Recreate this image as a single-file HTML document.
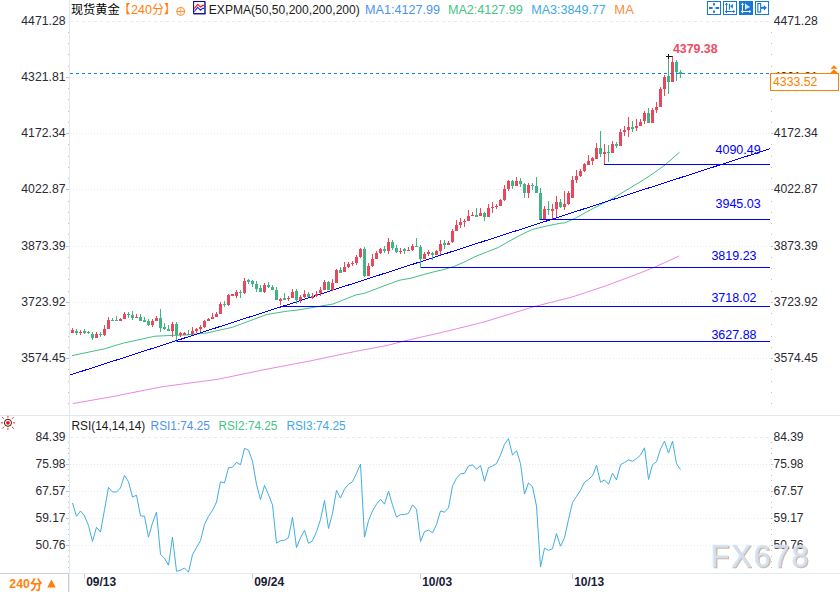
<!DOCTYPE html>
<html><head><meta charset="utf-8"><title>chart</title><style>html,body{margin:0;padding:0;background:#fff;overflow:hidden}body{width:840px;height:592px}</style></head><body>
<svg width="840" height="592" viewBox="0 0 840 592" style="display:block;font-family:'Liberation Sans',sans-serif">
<rect width="840" height="592" fill="#fff"/>
<rect x="69" y="0" width="1" height="573" fill="#e3e8ef"/>
<rect x="0" y="415" width="840" height="1" fill="#e3e8ef"/>
<rect x="0" y="573" width="840" height="1" fill="#e4eaf1"/>
<line x1="70" y1="21.5" x2="770" y2="21.5" stroke="#e7ebf1" stroke-width="1" stroke-dasharray="3,3" shape-rendering="crispEdges"/>
<line x1="70" y1="77.5" x2="770" y2="77.5" stroke="#e7ebf1" stroke-width="1" stroke-dasharray="1,2" shape-rendering="crispEdges"/>
<line x1="70" y1="133.5" x2="770" y2="133.5" stroke="#e7ebf1" stroke-width="1" stroke-dasharray="1,2" shape-rendering="crispEdges"/>
<line x1="70" y1="189.5" x2="770" y2="189.5" stroke="#e7ebf1" stroke-width="1" stroke-dasharray="1,2" shape-rendering="crispEdges"/>
<line x1="70" y1="246.5" x2="770" y2="246.5" stroke="#e7ebf1" stroke-width="1" stroke-dasharray="1,2" shape-rendering="crispEdges"/>
<line x1="70" y1="302.5" x2="770" y2="302.5" stroke="#e7ebf1" stroke-width="1" stroke-dasharray="1,2" shape-rendering="crispEdges"/>
<line x1="70" y1="358.5" x2="770" y2="358.5" stroke="#e7ebf1" stroke-width="1" stroke-dasharray="1,2" shape-rendering="crispEdges"/>
<line x1="70" y1="437.5" x2="770" y2="437.5" stroke="#e7ebf1" stroke-width="1" stroke-dasharray="3,3" shape-rendering="crispEdges"/>
<line x1="70" y1="464.5" x2="770" y2="464.5" stroke="#e7ebf1" stroke-width="1" stroke-dasharray="1,2" shape-rendering="crispEdges"/>
<line x1="70" y1="491.5" x2="770" y2="491.5" stroke="#e7ebf1" stroke-width="1" stroke-dasharray="1,2" shape-rendering="crispEdges"/>
<line x1="70" y1="518.5" x2="770" y2="518.5" stroke="#e7ebf1" stroke-width="1" stroke-dasharray="1,2" shape-rendering="crispEdges"/>
<line x1="70" y1="545.5" x2="770" y2="545.5" stroke="#e7ebf1" stroke-width="1" stroke-dasharray="1,2" shape-rendering="crispEdges"/>
<rect x="68" y="32" width="1" height="1" fill="#bac2d0"/>
<rect x="771" y="32" width="1" height="1" fill="#bac2d0"/>
<rect x="68" y="43" width="1" height="1" fill="#bac2d0"/>
<rect x="771" y="43" width="1" height="1" fill="#bac2d0"/>
<rect x="68" y="54" width="1" height="1" fill="#bac2d0"/>
<rect x="771" y="54" width="1" height="1" fill="#bac2d0"/>
<rect x="68" y="66" width="1" height="1" fill="#bac2d0"/>
<rect x="771" y="66" width="1" height="1" fill="#bac2d0"/>
<rect x="66" y="77" width="3" height="1" fill="#bac2d0"/>
<rect x="771" y="77" width="2" height="1" fill="#bac2d0"/>
<rect x="68" y="88" width="1" height="1" fill="#bac2d0"/>
<rect x="771" y="88" width="1" height="1" fill="#bac2d0"/>
<rect x="68" y="99" width="1" height="1" fill="#bac2d0"/>
<rect x="771" y="99" width="1" height="1" fill="#bac2d0"/>
<rect x="68" y="111" width="1" height="1" fill="#bac2d0"/>
<rect x="771" y="111" width="1" height="1" fill="#bac2d0"/>
<rect x="68" y="122" width="1" height="1" fill="#bac2d0"/>
<rect x="771" y="122" width="1" height="1" fill="#bac2d0"/>
<rect x="66" y="133" width="3" height="1" fill="#bac2d0"/>
<rect x="771" y="133" width="2" height="1" fill="#bac2d0"/>
<rect x="68" y="144" width="1" height="1" fill="#bac2d0"/>
<rect x="771" y="144" width="1" height="1" fill="#bac2d0"/>
<rect x="68" y="156" width="1" height="1" fill="#bac2d0"/>
<rect x="771" y="156" width="1" height="1" fill="#bac2d0"/>
<rect x="68" y="167" width="1" height="1" fill="#bac2d0"/>
<rect x="771" y="167" width="1" height="1" fill="#bac2d0"/>
<rect x="68" y="178" width="1" height="1" fill="#bac2d0"/>
<rect x="771" y="178" width="1" height="1" fill="#bac2d0"/>
<rect x="66" y="189" width="3" height="1" fill="#bac2d0"/>
<rect x="771" y="189" width="2" height="1" fill="#bac2d0"/>
<rect x="68" y="201" width="1" height="1" fill="#bac2d0"/>
<rect x="771" y="201" width="1" height="1" fill="#bac2d0"/>
<rect x="68" y="212" width="1" height="1" fill="#bac2d0"/>
<rect x="771" y="212" width="1" height="1" fill="#bac2d0"/>
<rect x="68" y="223" width="1" height="1" fill="#bac2d0"/>
<rect x="771" y="223" width="1" height="1" fill="#bac2d0"/>
<rect x="68" y="234" width="1" height="1" fill="#bac2d0"/>
<rect x="771" y="234" width="1" height="1" fill="#bac2d0"/>
<rect x="66" y="246" width="3" height="1" fill="#bac2d0"/>
<rect x="771" y="246" width="2" height="1" fill="#bac2d0"/>
<rect x="68" y="257" width="1" height="1" fill="#bac2d0"/>
<rect x="771" y="257" width="1" height="1" fill="#bac2d0"/>
<rect x="68" y="268" width="1" height="1" fill="#bac2d0"/>
<rect x="771" y="268" width="1" height="1" fill="#bac2d0"/>
<rect x="68" y="279" width="1" height="1" fill="#bac2d0"/>
<rect x="771" y="279" width="1" height="1" fill="#bac2d0"/>
<rect x="68" y="291" width="1" height="1" fill="#bac2d0"/>
<rect x="771" y="291" width="1" height="1" fill="#bac2d0"/>
<rect x="66" y="302" width="3" height="1" fill="#bac2d0"/>
<rect x="771" y="302" width="2" height="1" fill="#bac2d0"/>
<rect x="68" y="313" width="1" height="1" fill="#bac2d0"/>
<rect x="771" y="313" width="1" height="1" fill="#bac2d0"/>
<rect x="68" y="324" width="1" height="1" fill="#bac2d0"/>
<rect x="771" y="324" width="1" height="1" fill="#bac2d0"/>
<rect x="68" y="336" width="1" height="1" fill="#bac2d0"/>
<rect x="771" y="336" width="1" height="1" fill="#bac2d0"/>
<rect x="68" y="347" width="1" height="1" fill="#bac2d0"/>
<rect x="771" y="347" width="1" height="1" fill="#bac2d0"/>
<rect x="66" y="358" width="3" height="1" fill="#bac2d0"/>
<rect x="771" y="358" width="2" height="1" fill="#bac2d0"/>
<rect x="68" y="369" width="1" height="1" fill="#bac2d0"/>
<rect x="771" y="369" width="1" height="1" fill="#bac2d0"/>
<rect x="68" y="381" width="1" height="1" fill="#bac2d0"/>
<rect x="771" y="381" width="1" height="1" fill="#bac2d0"/>
<rect x="68" y="392" width="1" height="1" fill="#bac2d0"/>
<rect x="771" y="392" width="1" height="1" fill="#bac2d0"/>
<rect x="68" y="403" width="1" height="1" fill="#bac2d0"/>
<rect x="771" y="403" width="1" height="1" fill="#bac2d0"/>
<rect x="68" y="442" width="1" height="1" fill="#bac2d0"/>
<rect x="771" y="442" width="1" height="1" fill="#bac2d0"/>
<rect x="68" y="448" width="1" height="1" fill="#bac2d0"/>
<rect x="771" y="448" width="1" height="1" fill="#bac2d0"/>
<rect x="68" y="453" width="1" height="1" fill="#bac2d0"/>
<rect x="771" y="453" width="1" height="1" fill="#bac2d0"/>
<rect x="68" y="459" width="1" height="1" fill="#bac2d0"/>
<rect x="771" y="459" width="1" height="1" fill="#bac2d0"/>
<rect x="66" y="464" width="3" height="1" fill="#bac2d0"/>
<rect x="771" y="464" width="2" height="1" fill="#bac2d0"/>
<rect x="68" y="469" width="1" height="1" fill="#bac2d0"/>
<rect x="771" y="469" width="1" height="1" fill="#bac2d0"/>
<rect x="68" y="475" width="1" height="1" fill="#bac2d0"/>
<rect x="771" y="475" width="1" height="1" fill="#bac2d0"/>
<rect x="68" y="480" width="1" height="1" fill="#bac2d0"/>
<rect x="771" y="480" width="1" height="1" fill="#bac2d0"/>
<rect x="68" y="486" width="1" height="1" fill="#bac2d0"/>
<rect x="771" y="486" width="1" height="1" fill="#bac2d0"/>
<rect x="66" y="491" width="3" height="1" fill="#bac2d0"/>
<rect x="771" y="491" width="2" height="1" fill="#bac2d0"/>
<rect x="68" y="496" width="1" height="1" fill="#bac2d0"/>
<rect x="771" y="496" width="1" height="1" fill="#bac2d0"/>
<rect x="68" y="502" width="1" height="1" fill="#bac2d0"/>
<rect x="771" y="502" width="1" height="1" fill="#bac2d0"/>
<rect x="68" y="507" width="1" height="1" fill="#bac2d0"/>
<rect x="771" y="507" width="1" height="1" fill="#bac2d0"/>
<rect x="68" y="513" width="1" height="1" fill="#bac2d0"/>
<rect x="771" y="513" width="1" height="1" fill="#bac2d0"/>
<rect x="66" y="518" width="3" height="1" fill="#bac2d0"/>
<rect x="771" y="518" width="2" height="1" fill="#bac2d0"/>
<rect x="68" y="523" width="1" height="1" fill="#bac2d0"/>
<rect x="771" y="523" width="1" height="1" fill="#bac2d0"/>
<rect x="68" y="529" width="1" height="1" fill="#bac2d0"/>
<rect x="771" y="529" width="1" height="1" fill="#bac2d0"/>
<rect x="68" y="534" width="1" height="1" fill="#bac2d0"/>
<rect x="771" y="534" width="1" height="1" fill="#bac2d0"/>
<rect x="68" y="540" width="1" height="1" fill="#bac2d0"/>
<rect x="771" y="540" width="1" height="1" fill="#bac2d0"/>
<rect x="66" y="545" width="3" height="1" fill="#bac2d0"/>
<rect x="771" y="545" width="2" height="1" fill="#bac2d0"/>
<rect x="68" y="550" width="1" height="1" fill="#bac2d0"/>
<rect x="771" y="550" width="1" height="1" fill="#bac2d0"/>
<rect x="68" y="556" width="1" height="1" fill="#bac2d0"/>
<rect x="771" y="556" width="1" height="1" fill="#bac2d0"/>
<rect x="68" y="561" width="1" height="1" fill="#bac2d0"/>
<rect x="771" y="561" width="1" height="1" fill="#bac2d0"/>
<rect x="68" y="567" width="1" height="1" fill="#bac2d0"/>
<rect x="771" y="567" width="1" height="1" fill="#bac2d0"/>
<text x="65.5" y="25" font-size="12" fill="#2a2a33" text-anchor="end" textLength="44.2" lengthAdjust="spacingAndGlyphs">4471.28</text>
<text x="773.7" y="25" font-size="12" fill="#2a2a33" textLength="44" lengthAdjust="spacingAndGlyphs">4471.28</text>
<text x="65.5" y="81" font-size="12" fill="#2a2a33" text-anchor="end" textLength="44.2" lengthAdjust="spacingAndGlyphs">4321.81</text>
<text x="773.7" y="81" font-size="12" fill="#2a2a33" textLength="44" lengthAdjust="spacingAndGlyphs">4321.81</text>
<text x="65.5" y="137" font-size="12" fill="#2a2a33" text-anchor="end" textLength="44.2" lengthAdjust="spacingAndGlyphs">4172.34</text>
<text x="773.7" y="137" font-size="12" fill="#2a2a33" textLength="44" lengthAdjust="spacingAndGlyphs">4172.34</text>
<text x="65.5" y="193" font-size="12" fill="#2a2a33" text-anchor="end" textLength="44.2" lengthAdjust="spacingAndGlyphs">4022.87</text>
<text x="773.7" y="193" font-size="12" fill="#2a2a33" textLength="44" lengthAdjust="spacingAndGlyphs">4022.87</text>
<text x="65.5" y="250" font-size="12" fill="#2a2a33" text-anchor="end" textLength="44.2" lengthAdjust="spacingAndGlyphs">3873.39</text>
<text x="773.7" y="250" font-size="12" fill="#2a2a33" textLength="44" lengthAdjust="spacingAndGlyphs">3873.39</text>
<text x="65.5" y="306" font-size="12" fill="#2a2a33" text-anchor="end" textLength="44.2" lengthAdjust="spacingAndGlyphs">3723.92</text>
<text x="773.7" y="306" font-size="12" fill="#2a2a33" textLength="44" lengthAdjust="spacingAndGlyphs">3723.92</text>
<text x="65.5" y="362" font-size="12" fill="#2a2a33" text-anchor="end" textLength="44.2" lengthAdjust="spacingAndGlyphs">3574.45</text>
<text x="773.7" y="362" font-size="12" fill="#2a2a33" textLength="44" lengthAdjust="spacingAndGlyphs">3574.45</text>
<text x="65.5" y="440.6" font-size="12" fill="#2a2a33" text-anchor="end">84.39</text>
<text x="773.5" y="440.6" font-size="12" fill="#2a2a33">84.39</text>
<text x="65.5" y="467.6" font-size="12" fill="#2a2a33" text-anchor="end">75.98</text>
<text x="773.5" y="467.6" font-size="12" fill="#2a2a33">75.98</text>
<text x="65.5" y="494.6" font-size="12" fill="#2a2a33" text-anchor="end">67.57</text>
<text x="773.5" y="494.6" font-size="12" fill="#2a2a33">67.57</text>
<text x="65.5" y="521.6" font-size="12" fill="#2a2a33" text-anchor="end">59.17</text>
<text x="773.5" y="521.6" font-size="12" fill="#2a2a33">59.17</text>
<text x="65.5" y="548.6" font-size="12" fill="#2a2a33" text-anchor="end">50.76</text>
<text x="773.5" y="548.6" font-size="12" fill="#2a2a33">50.76</text>
<polyline points="72.9,403.6 115.5,396.0 161.2,386.9 218.4,379.2 264.1,369.7 309.8,361.0 355.5,351.4 386.0,345.7 404.3,341.0 446.2,331.4 484.3,321.9 533.8,306.7 571.9,297.1 606.2,285.7 636.7,274.3 655.7,266.7 679.3,256.0" fill="none" stroke="#ea80e0" stroke-width="0.95" stroke-linejoin="round" />
<polyline points="72.0,355.6 104.5,348.8 123.4,343.1 155.0,336.2 172.2,335.4 186.0,335.0 206.7,333.0 232.5,327.3 249.8,320.8 267.0,314.4 287.0,311.2 298.0,310.0 333.0,304.0 356.0,294.9 364.6,293.2 381.9,286.7 399.0,280.3 410.0,278.4 430.0,272.8 441.7,270.0 453.3,266.7 463.3,262.5 475.0,256.7 486.7,252.0 498.3,247.5 508.3,241.7 520.0,235.3 531.7,229.7 540.0,227.5 550.0,225.3 560.0,223.3 565.0,222.8 576.7,217.5 593.3,208.3 610.0,200.0 626.7,190.0 643.3,180.0 653.3,173.3 665.0,165.0 679.5,152.2" fill="none" stroke="#3aba7e" stroke-width="0.95" stroke-linejoin="round" />
<rect x="604" y="164" width="166" height="1" fill="#0000ff"/>
<text x="760.7" y="153.8" font-size="12" fill="#0000ff" text-anchor="end" textLength="45.2" lengthAdjust="spacingAndGlyphs">4090.49</text>
<rect x="539.5" y="219" width="230.5" height="1" fill="#0000ff"/>
<text x="760.7" y="207.9" font-size="12" fill="#0000ff" text-anchor="end" textLength="45.2" lengthAdjust="spacingAndGlyphs">3945.03</text>
<rect x="420.5" y="267" width="349.5" height="1" fill="#0000ff"/>
<text x="756.6" y="259.8" font-size="12" fill="#0000ff" text-anchor="end" textLength="45.2" lengthAdjust="spacingAndGlyphs">3819.23</text>
<rect x="284" y="306" width="486" height="1" fill="#0000ff"/>
<text x="756.6" y="301.9" font-size="12" fill="#0000ff" text-anchor="end" textLength="45.2" lengthAdjust="spacingAndGlyphs">3718.02</text>
<rect x="176.5" y="341" width="593.5" height="1" fill="#0000ff"/>
<text x="756.6" y="338.9" font-size="12" fill="#0000ff" text-anchor="end" textLength="45.2" lengthAdjust="spacingAndGlyphs">3627.88</text>
<line x1="69.5" y1="375.2" x2="769.8" y2="148.8" stroke="#0000ff" stroke-width="1" shape-rendering="crispEdges"/>
<rect x="72.0" y="328" width="1" height="5" fill="#e8485c"/><rect x="71.0" y="330" width="3" height="3" fill="#e8485c"/>
<rect x="76.0" y="329" width="1" height="6" fill="#42b382"/><rect x="75.0" y="331" width="3" height="2" fill="#42b382"/>
<rect x="80.0" y="330" width="1" height="5" fill="#e8485c"/><rect x="79.0" y="332" width="3" height="1" fill="#e8485c"/>
<rect x="84.0" y="329" width="1" height="5" fill="#42b382"/><rect x="83.0" y="331" width="3" height="2" fill="#42b382"/>
<rect x="88.0" y="331" width="1" height="3" fill="#42b382"/><rect x="87.0" y="332" width="3" height="1" fill="#42b382"/>
<rect x="92.0" y="332" width="1" height="8" fill="#42b382"/><rect x="91.0" y="334" width="3" height="4" fill="#42b382"/>
<rect x="96.0" y="332" width="1" height="6" fill="#e8485c"/><rect x="95.0" y="334" width="3" height="4" fill="#e8485c"/>
<rect x="100.0" y="332" width="1" height="5" fill="#42b382"/><rect x="99.0" y="334" width="3" height="1" fill="#42b382"/>
<rect x="104.0" y="325" width="1" height="11" fill="#e8485c"/><rect x="103.0" y="329" width="3" height="6" fill="#e8485c"/>
<rect x="108.0" y="317" width="1" height="12" fill="#e8485c"/><rect x="107.0" y="320" width="3" height="9" fill="#e8485c"/>
<rect x="112.0" y="318" width="1" height="3" fill="#42b382"/><rect x="111.0" y="320" width="3" height="1" fill="#42b382"/>
<rect x="116.0" y="316" width="1" height="5" fill="#42b382"/><rect x="115.0" y="320" width="3" height="1" fill="#42b382"/>
<rect x="120.0" y="318" width="1" height="3" fill="#e8485c"/><rect x="119.0" y="319" width="3" height="2" fill="#e8485c"/>
<rect x="124.0" y="312" width="1" height="7" fill="#e8485c"/><rect x="123.0" y="314" width="3" height="5" fill="#e8485c"/>
<rect x="128.0" y="312" width="1" height="6" fill="#42b382"/><rect x="127.0" y="314" width="3" height="1" fill="#42b382"/>
<rect x="132.0" y="311" width="1" height="9" fill="#42b382"/><rect x="131.0" y="315" width="3" height="3" fill="#42b382"/>
<rect x="136.0" y="314" width="1" height="4" fill="#e8485c"/><rect x="135.0" y="317" width="3" height="1" fill="#e8485c"/>
<rect x="140.0" y="314" width="1" height="7" fill="#42b382"/><rect x="139.0" y="317" width="3" height="4" fill="#42b382"/>
<rect x="144.0" y="317" width="1" height="5" fill="#42b382"/><rect x="143.0" y="320" width="3" height="2" fill="#42b382"/>
<rect x="148.0" y="319" width="1" height="7" fill="#42b382"/><rect x="147.0" y="321" width="3" height="4" fill="#42b382"/>
<rect x="152.0" y="319" width="1" height="8" fill="#e8485c"/><rect x="151.0" y="321" width="3" height="4" fill="#e8485c"/>
<rect x="156.0" y="316" width="1" height="5" fill="#e8485c"/><rect x="155.0" y="318" width="3" height="3" fill="#e8485c"/>
<rect x="160.0" y="309" width="1" height="23" fill="#42b382"/><rect x="159.0" y="318" width="3" height="10" fill="#42b382"/>
<rect x="164.0" y="323" width="1" height="7" fill="#42b382"/><rect x="163.0" y="327" width="3" height="2" fill="#42b382"/>
<rect x="168.0" y="325" width="1" height="6" fill="#42b382"/><rect x="167.0" y="329" width="3" height="2" fill="#42b382"/>
<rect x="172.0" y="322" width="1" height="15" fill="#e8485c"/><rect x="171.0" y="324" width="3" height="7" fill="#e8485c"/>
<rect x="176.0" y="322" width="1" height="18" fill="#42b382"/><rect x="175.0" y="324" width="3" height="11" fill="#42b382"/>
<rect x="180.0" y="332" width="1" height="5" fill="#e8485c"/><rect x="179.0" y="333" width="3" height="2" fill="#e8485c"/>
<rect x="184.0" y="332" width="1" height="3" fill="#e8485c"/><rect x="183.0" y="333" width="3" height="2" fill="#e8485c"/>
<rect x="188.0" y="330" width="1" height="5" fill="#42b382"/><rect x="187.0" y="334" width="3" height="1" fill="#42b382"/>
<rect x="192.0" y="327" width="1" height="8" fill="#e8485c"/><rect x="191.0" y="331" width="3" height="3" fill="#e8485c"/>
<rect x="196.0" y="328" width="1" height="5" fill="#e8485c"/><rect x="195.0" y="329" width="3" height="2" fill="#e8485c"/>
<rect x="200.0" y="325" width="1" height="7" fill="#e8485c"/><rect x="199.0" y="327" width="3" height="2" fill="#e8485c"/>
<rect x="204.0" y="320" width="1" height="8" fill="#e8485c"/><rect x="203.0" y="321" width="3" height="6" fill="#e8485c"/>
<rect x="208.0" y="318" width="1" height="3" fill="#e8485c"/><rect x="207.0" y="319" width="3" height="2" fill="#e8485c"/>
<rect x="212.0" y="313" width="1" height="6" fill="#e8485c"/><rect x="211.0" y="317" width="3" height="2" fill="#e8485c"/>
<rect x="216.0" y="312" width="1" height="5" fill="#e8485c"/><rect x="215.0" y="314" width="3" height="3" fill="#e8485c"/>
<rect x="220.0" y="302" width="1" height="12" fill="#e8485c"/><rect x="219.0" y="304" width="3" height="10" fill="#e8485c"/>
<rect x="224.0" y="301" width="1" height="6" fill="#42b382"/><rect x="223.0" y="304" width="3" height="1" fill="#42b382"/>
<rect x="228.0" y="294" width="1" height="12" fill="#e8485c"/><rect x="227.0" y="295" width="3" height="10" fill="#e8485c"/>
<rect x="232.0" y="294" width="1" height="2" fill="#e8485c"/><rect x="231.0" y="294" width="3" height="2" fill="#e8485c"/>
<rect x="236.0" y="290" width="1" height="8" fill="#e8485c"/><rect x="235.0" y="292" width="3" height="4" fill="#e8485c"/>
<rect x="240.0" y="290" width="1" height="8" fill="#42b382"/><rect x="239.0" y="292" width="3" height="1" fill="#42b382"/>
<rect x="244.0" y="278" width="1" height="16" fill="#e8485c"/><rect x="243.0" y="281" width="3" height="12" fill="#e8485c"/>
<rect x="248.0" y="279" width="1" height="5" fill="#42b382"/><rect x="247.0" y="280" width="3" height="2" fill="#42b382"/>
<rect x="252.0" y="280" width="1" height="7" fill="#42b382"/><rect x="251.0" y="281" width="3" height="3" fill="#42b382"/>
<rect x="256.0" y="281" width="1" height="11" fill="#42b382"/><rect x="255.0" y="284" width="3" height="5" fill="#42b382"/>
<rect x="260.0" y="285" width="1" height="7" fill="#42b382"/><rect x="259.0" y="288" width="3" height="4" fill="#42b382"/>
<rect x="264.0" y="283" width="1" height="10" fill="#e8485c"/><rect x="263.0" y="285" width="3" height="7" fill="#e8485c"/>
<rect x="268.0" y="282" width="1" height="6" fill="#42b382"/><rect x="267.0" y="285" width="3" height="2" fill="#42b382"/>
<rect x="272.0" y="285" width="1" height="5" fill="#42b382"/><rect x="271.0" y="287" width="3" height="3" fill="#42b382"/>
<rect x="276.0" y="287" width="1" height="13" fill="#42b382"/><rect x="275.0" y="290" width="3" height="10" fill="#42b382"/>
<rect x="280.0" y="298" width="1" height="7" fill="#e8485c"/><rect x="279.0" y="299" width="3" height="2" fill="#e8485c"/>
<rect x="284.0" y="293" width="1" height="7" fill="#42b382"/><rect x="283.0" y="298" width="3" height="2" fill="#42b382"/>
<rect x="288.0" y="296" width="1" height="5" fill="#e8485c"/><rect x="287.0" y="298" width="3" height="1" fill="#e8485c"/>
<rect x="292.0" y="289" width="1" height="9" fill="#e8485c"/><rect x="291.0" y="292" width="3" height="6" fill="#e8485c"/>
<rect x="296.0" y="289" width="1" height="15" fill="#42b382"/><rect x="295.0" y="291" width="3" height="9" fill="#42b382"/>
<rect x="300.0" y="295" width="1" height="8" fill="#e8485c"/><rect x="299.0" y="297" width="3" height="3" fill="#e8485c"/>
<rect x="304.0" y="290" width="1" height="8" fill="#e8485c"/><rect x="303.0" y="294" width="3" height="3" fill="#e8485c"/>
<rect x="308.0" y="292" width="1" height="5" fill="#42b382"/><rect x="307.0" y="294" width="3" height="3" fill="#42b382"/>
<rect x="312.0" y="293" width="1" height="6" fill="#e8485c"/><rect x="311.0" y="296" width="3" height="2" fill="#e8485c"/>
<rect x="316.0" y="291" width="1" height="6" fill="#e8485c"/><rect x="315.0" y="294" width="3" height="2" fill="#e8485c"/>
<rect x="320.0" y="287" width="1" height="9" fill="#e8485c"/><rect x="319.0" y="290" width="3" height="3" fill="#e8485c"/>
<rect x="324.0" y="280" width="1" height="10" fill="#e8485c"/><rect x="323.0" y="282" width="3" height="8" fill="#e8485c"/>
<rect x="328.0" y="281" width="1" height="9" fill="#42b382"/><rect x="327.0" y="282" width="3" height="8" fill="#42b382"/>
<rect x="332.0" y="279" width="1" height="12" fill="#e8485c"/><rect x="331.0" y="283" width="3" height="7" fill="#e8485c"/>
<rect x="336.0" y="269" width="1" height="14" fill="#e8485c"/><rect x="335.0" y="270" width="3" height="13" fill="#e8485c"/>
<rect x="340.0" y="267" width="1" height="6" fill="#42b382"/><rect x="339.0" y="270" width="3" height="3" fill="#42b382"/>
<rect x="344.0" y="262" width="1" height="10" fill="#e8485c"/><rect x="343.0" y="267" width="3" height="5" fill="#e8485c"/>
<rect x="348.0" y="262" width="1" height="6" fill="#e8485c"/><rect x="347.0" y="264" width="3" height="3" fill="#e8485c"/>
<rect x="352.0" y="261" width="1" height="5" fill="#e8485c"/><rect x="351.0" y="263" width="3" height="1" fill="#e8485c"/>
<rect x="356.0" y="255" width="1" height="10" fill="#e8485c"/><rect x="355.0" y="257" width="3" height="6" fill="#e8485c"/>
<rect x="360.0" y="248" width="1" height="10" fill="#e8485c"/><rect x="359.0" y="249" width="3" height="8" fill="#e8485c"/>
<rect x="364.0" y="247" width="1" height="30" fill="#42b382"/><rect x="363.0" y="249" width="3" height="27" fill="#42b382"/>
<rect x="368.0" y="263" width="1" height="13" fill="#e8485c"/><rect x="367.0" y="266" width="3" height="10" fill="#e8485c"/>
<rect x="372.0" y="254" width="1" height="13" fill="#e8485c"/><rect x="371.0" y="259" width="3" height="7" fill="#e8485c"/>
<rect x="376.0" y="251" width="1" height="8" fill="#e8485c"/><rect x="375.0" y="253" width="3" height="6" fill="#e8485c"/>
<rect x="380.0" y="248" width="1" height="6" fill="#e8485c"/><rect x="379.0" y="249" width="3" height="4" fill="#e8485c"/>
<rect x="384.0" y="246" width="1" height="7" fill="#42b382"/><rect x="383.0" y="249" width="3" height="2" fill="#42b382"/>
<rect x="388.0" y="238" width="1" height="16" fill="#e8485c"/><rect x="387.0" y="242" width="3" height="9" fill="#e8485c"/>
<rect x="392.0" y="240" width="1" height="10" fill="#42b382"/><rect x="391.0" y="242" width="3" height="6" fill="#42b382"/>
<rect x="396.0" y="245" width="1" height="8" fill="#42b382"/><rect x="395.0" y="248" width="3" height="4" fill="#42b382"/>
<rect x="400.0" y="248" width="1" height="6" fill="#e8485c"/><rect x="399.0" y="251" width="3" height="1" fill="#e8485c"/>
<rect x="404.0" y="248" width="1" height="6" fill="#42b382"/><rect x="403.0" y="249" width="3" height="2" fill="#42b382"/>
<rect x="408.0" y="247" width="1" height="4" fill="#e8485c"/><rect x="407.0" y="250" width="3" height="1" fill="#e8485c"/>
<rect x="412.0" y="244" width="1" height="7" fill="#e8485c"/><rect x="411.0" y="246" width="3" height="4" fill="#e8485c"/>
<rect x="416.0" y="238" width="1" height="9" fill="#42b382"/><rect x="415.0" y="246" width="3" height="1" fill="#42b382"/>
<rect x="420.0" y="245" width="1" height="23" fill="#42b382"/><rect x="419.0" y="247" width="3" height="12" fill="#42b382"/>
<rect x="424.0" y="252" width="1" height="7" fill="#e8485c"/><rect x="423.0" y="254" width="3" height="5" fill="#e8485c"/>
<rect x="428.0" y="250" width="1" height="6" fill="#e8485c"/><rect x="427.0" y="252" width="3" height="2" fill="#e8485c"/>
<rect x="432.0" y="252" width="1" height="8" fill="#42b382"/><rect x="431.0" y="253" width="3" height="2" fill="#42b382"/>
<rect x="436.0" y="250" width="1" height="5" fill="#e8485c"/><rect x="435.0" y="251" width="3" height="4" fill="#e8485c"/>
<rect x="440.0" y="240" width="1" height="15" fill="#e8485c"/><rect x="439.0" y="244" width="3" height="7" fill="#e8485c"/>
<rect x="444.0" y="240" width="1" height="9" fill="#42b382"/><rect x="443.0" y="243" width="3" height="2" fill="#42b382"/>
<rect x="448.0" y="241" width="1" height="4" fill="#e8485c"/><rect x="447.0" y="243" width="3" height="2" fill="#e8485c"/>
<rect x="452.0" y="229" width="1" height="14" fill="#e8485c"/><rect x="451.0" y="231" width="3" height="11" fill="#e8485c"/>
<rect x="456.0" y="220" width="1" height="11" fill="#e8485c"/><rect x="455.0" y="225" width="3" height="6" fill="#e8485c"/>
<rect x="460.0" y="218" width="1" height="10" fill="#e8485c"/><rect x="459.0" y="222" width="3" height="3" fill="#e8485c"/>
<rect x="464.0" y="219" width="1" height="8" fill="#e8485c"/><rect x="463.0" y="221" width="3" height="1" fill="#e8485c"/>
<rect x="468.0" y="210" width="1" height="11" fill="#e8485c"/><rect x="467.0" y="216" width="3" height="5" fill="#e8485c"/>
<rect x="472.0" y="212" width="1" height="4" fill="#e8485c"/><rect x="471.0" y="215" width="3" height="1" fill="#e8485c"/>
<rect x="476.0" y="208" width="1" height="9" fill="#42b382"/><rect x="475.0" y="215" width="3" height="2" fill="#42b382"/>
<rect x="480.0" y="208" width="1" height="8" fill="#e8485c"/><rect x="479.0" y="213" width="3" height="3" fill="#e8485c"/>
<rect x="484.0" y="212" width="1" height="9" fill="#42b382"/><rect x="483.0" y="213" width="3" height="4" fill="#42b382"/>
<rect x="488.0" y="204" width="1" height="13" fill="#e8485c"/><rect x="487.0" y="208" width="3" height="9" fill="#e8485c"/>
<rect x="492.0" y="202" width="1" height="11" fill="#e8485c"/><rect x="491.0" y="207" width="3" height="1" fill="#e8485c"/>
<rect x="496.0" y="204" width="1" height="5" fill="#e8485c"/><rect x="495.0" y="206" width="3" height="1" fill="#e8485c"/>
<rect x="500.0" y="199" width="1" height="7" fill="#e8485c"/><rect x="499.0" y="200" width="3" height="6" fill="#e8485c"/>
<rect x="504.0" y="185" width="1" height="16" fill="#e8485c"/><rect x="503.0" y="189" width="3" height="11" fill="#e8485c"/>
<rect x="508.0" y="180" width="1" height="11" fill="#e8485c"/><rect x="507.0" y="181" width="3" height="8" fill="#e8485c"/>
<rect x="512.0" y="180" width="1" height="9" fill="#42b382"/><rect x="511.0" y="181" width="3" height="5" fill="#42b382"/>
<rect x="516.0" y="177" width="1" height="9" fill="#e8485c"/><rect x="515.0" y="181" width="3" height="5" fill="#e8485c"/>
<rect x="520.0" y="178" width="1" height="9" fill="#42b382"/><rect x="519.0" y="181" width="3" height="3" fill="#42b382"/>
<rect x="524.0" y="183" width="1" height="15" fill="#42b382"/><rect x="523.0" y="184" width="3" height="9" fill="#42b382"/>
<rect x="528.0" y="183" width="1" height="15" fill="#e8485c"/><rect x="527.0" y="185" width="3" height="8" fill="#e8485c"/>
<rect x="532.0" y="183" width="1" height="7" fill="#42b382"/><rect x="531.0" y="185" width="3" height="1" fill="#42b382"/>
<rect x="536.0" y="177" width="1" height="16" fill="#42b382"/><rect x="535.0" y="186" width="3" height="7" fill="#42b382"/>
<rect x="540.0" y="188" width="1" height="31" fill="#42b382"/><rect x="539.0" y="193" width="3" height="26" fill="#42b382"/>
<rect x="544.0" y="206" width="1" height="13" fill="#e8485c"/><rect x="543.0" y="209" width="3" height="10" fill="#e8485c"/>
<rect x="548.0" y="201" width="1" height="14" fill="#42b382"/><rect x="547.0" y="209" width="3" height="1" fill="#42b382"/>
<rect x="552.0" y="204" width="1" height="15" fill="#e8485c"/><rect x="551.0" y="209" width="3" height="2" fill="#e8485c"/>
<rect x="556.0" y="196" width="1" height="21" fill="#e8485c"/><rect x="555.0" y="202" width="3" height="7" fill="#e8485c"/>
<rect x="560.0" y="199" width="1" height="9" fill="#42b382"/><rect x="559.0" y="202" width="3" height="5" fill="#42b382"/>
<rect x="564.0" y="191" width="1" height="19" fill="#e8485c"/><rect x="563.0" y="204" width="3" height="3" fill="#e8485c"/>
<rect x="568.0" y="191" width="1" height="14" fill="#e8485c"/><rect x="567.0" y="193" width="3" height="11" fill="#e8485c"/>
<rect x="572.0" y="176" width="1" height="22" fill="#e8485c"/><rect x="571.0" y="180" width="3" height="18" fill="#e8485c"/>
<rect x="576.0" y="170" width="1" height="13" fill="#e8485c"/><rect x="575.0" y="176" width="3" height="4" fill="#e8485c"/>
<rect x="580.0" y="169" width="1" height="8" fill="#e8485c"/><rect x="579.0" y="171" width="3" height="5" fill="#e8485c"/>
<rect x="584.0" y="163" width="1" height="9" fill="#e8485c"/><rect x="583.0" y="164" width="3" height="7" fill="#e8485c"/>
<rect x="588.0" y="155" width="1" height="10" fill="#e8485c"/><rect x="587.0" y="161" width="3" height="4" fill="#e8485c"/>
<rect x="592.0" y="157" width="1" height="8" fill="#e8485c"/><rect x="591.0" y="158" width="3" height="3" fill="#e8485c"/>
<rect x="596.0" y="143" width="1" height="16" fill="#e8485c"/><rect x="595.0" y="148" width="3" height="11" fill="#e8485c"/>
<rect x="600.0" y="131" width="1" height="26" fill="#42b382"/><rect x="599.0" y="148" width="3" height="6" fill="#42b382"/>
<rect x="604.0" y="144" width="1" height="20" fill="#e8485c"/><rect x="603.0" y="152" width="3" height="2" fill="#e8485c"/>
<rect x="608.0" y="145" width="1" height="17" fill="#42b382"/><rect x="607.0" y="152" width="3" height="1" fill="#42b382"/>
<rect x="612.0" y="141" width="1" height="12" fill="#e8485c"/><rect x="611.0" y="144" width="3" height="9" fill="#e8485c"/>
<rect x="616.0" y="142" width="1" height="6" fill="#42b382"/><rect x="615.0" y="144" width="3" height="2" fill="#42b382"/>
<rect x="620.0" y="129" width="1" height="17" fill="#e8485c"/><rect x="619.0" y="132" width="3" height="14" fill="#e8485c"/>
<rect x="624.0" y="126" width="1" height="10" fill="#e8485c"/><rect x="623.0" y="130" width="3" height="2" fill="#e8485c"/>
<rect x="628.0" y="117" width="1" height="20" fill="#e8485c"/><rect x="627.0" y="127" width="3" height="3" fill="#e8485c"/>
<rect x="632.0" y="121" width="1" height="11" fill="#42b382"/><rect x="631.0" y="127" width="3" height="2" fill="#42b382"/>
<rect x="636.0" y="119" width="1" height="12" fill="#e8485c"/><rect x="635.0" y="126" width="3" height="2" fill="#e8485c"/>
<rect x="640.0" y="119" width="1" height="7" fill="#e8485c"/><rect x="639.0" y="122" width="3" height="4" fill="#e8485c"/>
<rect x="644.0" y="111" width="1" height="13" fill="#e8485c"/><rect x="643.0" y="113" width="3" height="8" fill="#e8485c"/>
<rect x="648.0" y="108" width="1" height="15" fill="#42b382"/><rect x="647.0" y="113" width="3" height="10" fill="#42b382"/>
<rect x="652.0" y="108" width="1" height="15" fill="#e8485c"/><rect x="651.0" y="110" width="3" height="13" fill="#e8485c"/>
<rect x="656.0" y="102" width="1" height="11" fill="#e8485c"/><rect x="655.0" y="107" width="3" height="3" fill="#e8485c"/>
<rect x="660.0" y="87" width="1" height="20" fill="#e8485c"/><rect x="659.0" y="89" width="3" height="18" fill="#e8485c"/>
<rect x="664.0" y="75" width="1" height="21" fill="#e8485c"/><rect x="663.0" y="77" width="3" height="12" fill="#e8485c"/>
<rect x="668.0" y="56" width="1" height="38" fill="#42b382"/><rect x="667.0" y="76" width="3" height="6" fill="#42b382"/>
<rect x="672.0" y="56" width="1" height="26" fill="#e8485c"/><rect x="671.0" y="62" width="3" height="20" fill="#e8485c"/>
<rect x="676.0" y="60" width="1" height="21" fill="#42b382"/><rect x="675.0" y="62" width="3" height="10" fill="#42b382"/>
<rect x="680.0" y="70" width="1" height="8" fill="#42b382"/><rect x="679.0" y="72" width="3" height="2" fill="#42b382"/>
<line x1="70" y1="73.5" x2="770" y2="73.5" stroke="#0a7cff" stroke-width="1" stroke-dasharray="3,3" shape-rendering="crispEdges"/>
<path d="M666 56.5H672.5M668.5 54V59" stroke="#111" stroke-width="1" fill="none"/>
<text x="673" y="52.9" font-size="12" font-weight="bold" fill="#ec4d63" textLength="44.6" lengthAdjust="spacingAndGlyphs">4379.38</text>
<rect x="770.5" y="73.5" width="68" height="17" fill="#fff" stroke="#ff8000" stroke-width="1"/>
<text x="773" y="85.8" font-size="12" fill="#ff8000" textLength="44.4" lengthAdjust="spacingAndGlyphs">4333.52</text>
<path d="M830.4 68.8L834 65.2L837.6 68.8ZM830.2 73L834 69.2L837.8 73Z" fill="#ff8000"/>
<polyline points="72.5,503.0 76.5,516.3 80.5,511.0 84.5,515.9 88.5,525.6 92.5,541.4 96.5,527.3 100.5,532.1 104.5,509.8 108.5,487.4 112.5,492.0 116.5,492.0 120.5,487.9 124.5,475.3 128.5,481.8 132.5,497.1 136.5,495.2 140.5,515.9 144.5,516.3 148.5,537.2 152.5,523.1 156.5,512.2 160.5,554.3 164.5,558.4 168.5,565.2 172.5,537.0 176.5,571.3 180.5,570.1 184.5,568.1 188.5,572.2 192.5,554.7 196.5,547.5 200.5,540.6 204.5,524.4 208.5,516.3 212.5,510.3 216.5,502.0 220.5,481.8 224.5,483.0 228.5,467.7 232.5,467.2 236.5,462.4 240.5,464.8 244.5,448.3 248.5,450.2 252.5,461.2 256.5,484.3 260.5,499.6 264.5,485.5 268.5,494.7 272.5,504.9 276.5,543.1 280.5,540.6 284.5,540.2 288.5,537.7 292.5,517.1 296.5,547.5 300.5,537.7 304.5,530.4 308.5,543.3 312.5,540.9 316.5,531.7 320.5,519.5 324.5,500.5 328.5,528.5 332.5,513.4 336.5,490.3 340.5,498.1 344.5,489.1 348.5,484.3 352.5,481.8 356.5,473.3 360.5,464.1 364.5,537.2 368.5,520.7 372.5,511.0 376.5,504.2 380.5,499.3 384.5,504.2 388.5,491.1 392.5,504.9 396.5,517.1 400.5,514.6 404.5,514.6 408.5,513.4 412.5,504.9 416.5,509.3 420.5,541.4 424.5,531.7 428.5,530.0 432.5,532.9 436.5,524.4 440.5,511.0 444.5,512.2 448.5,507.8 452.5,486.0 456.5,478.2 460.5,473.8 464.5,473.3 468.5,466.0 472.5,464.8 476.5,469.2 480.5,465.5 484.5,481.3 488.5,467.7 492.5,466.0 496.5,463.6 500.5,455.1 504.5,444.2 508.5,438.6 512.5,455.1 516.5,450.7 520.5,463.6 524.5,494.0 528.5,483.0 532.5,486.7 536.5,506.1 540.5,566.9 544.5,548.2 548.5,550.4 552.5,548.7 556.5,533.6 560.5,546.2 564.5,537.7 568.5,519.5 572.5,502.5 576.5,496.4 580.5,490.3 584.5,482.3 588.5,479.4 592.5,475.8 596.5,465.3 600.5,482.3 604.5,479.9 608.5,484.3 612.5,473.3 616.5,479.9 620.5,464.8 624.5,462.4 628.5,460.0 632.5,461.2 636.5,458.7 640.5,455.1 644.5,447.8 648.5,479.4 652.5,464.8 656.5,461.7 660.5,449.0 664.5,441.2 668.5,453.1 672.5,441.2 676.5,463.6 680.5,469.7" fill="none" stroke="#38a8e0" stroke-width="0.95" stroke-linejoin="round" />
<text x="70.9" y="14.1" font-size="12.2" fill="#000" style="font-family:'Liberation Sans','Noto Sans CJK SC',sans-serif">现货黄金</text>
<text x="118.5" y="14" font-size="12" fill="#ff7f0e" style="font-family:'Liberation Sans','Noto Sans CJK SC',sans-serif">【</text>
<text x="131" y="14" font-size="12.5" fill="#ff7f0e" textLength="20.9" lengthAdjust="spacingAndGlyphs">240</text>
<text x="151.9" y="14" font-size="12" fill="#ff7f0e" style="font-family:'Liberation Sans','Noto Sans CJK SC',sans-serif">分</text>
<text x="163.9" y="14" font-size="12" fill="#ff7f0e" style="font-family:'Liberation Sans','Noto Sans CJK SC',sans-serif">】</text>
<g stroke="#ff8a1c" fill="none"><circle cx="180.7" cy="11.4" r="4.0" stroke-width="1"/><path d="M176.7 11.4H184.7" stroke-width="1"/><path d="M180.7 7.4V15.4" stroke-width="0.6"/></g>
<g><rect x="193.6" y="1.5" width="11.3" height="12.2" fill="#fff" stroke="#12128c" stroke-width="1.1"/><rect x="194" y="13.2" width="11.6" height="1.1" fill="#12128c" opacity="0.85"/><rect x="204.6" y="2" width="1" height="12" fill="#12128c" opacity="0.7"/><polyline points="194.3,8.6 197.6,4.4 200.5,7 202.7,5.4 204,5.4" fill="none" stroke="#ff1a1a" stroke-width="1.2"/><polyline points="194.3,11.5 197.6,7.3 200.5,10.2 202.7,8.3 204,8.3" fill="none" stroke="#1a2cff" stroke-width="1.2"/></g>
<text x="208.8" y="14" font-size="12" fill="#1a1a1a" font-weight="normal" textLength="151" lengthAdjust="spacingAndGlyphs">EXPMA(50,50,200,200,200)</text>
<text x="365" y="14" font-size="12" fill="#4d94f0" font-weight="normal" textLength="75" lengthAdjust="spacingAndGlyphs">MA1:4127.99</text>
<text x="448" y="14" font-size="12" fill="#45c485" font-weight="normal" textLength="74.8" lengthAdjust="spacingAndGlyphs">MA2:4127.99</text>
<text x="531.3" y="14" font-size="12" fill="#3fa9e6" font-weight="normal" textLength="74.5" lengthAdjust="spacingAndGlyphs">MA3:3849.77</text>
<text x="614.3" y="14" font-size="12" fill="#ff8c3c" font-weight="normal" textLength="19.5" lengthAdjust="spacingAndGlyphs">MA</text>
<rect x="707.5" y="1.5" width="13" height="13" fill="#fff" stroke="#1878d6" stroke-width="1"/>
<rect x="723.5" y="1.5" width="13" height="13" fill="#fff" stroke="#1878d6" stroke-width="1"/>
<rect x="739" y="1" width="14" height="14" fill="#1878d6"/>
<rect x="755.5" y="1.5" width="13" height="13" fill="#fff" stroke="#1878d6" stroke-width="1"/>
<g fill="#1878d6"><rect x="709" y="7" width="3.6" height="2"/><rect x="715.5" y="7" width="3.6" height="2"/><rect x="713" y="3.2" width="2" height="2.2"/><rect x="713" y="10.6" width="2" height="2.2"/></g>
<g stroke="#1878d6" fill="#1878d6"><path d="M726.5 3.6V12.6M725.4 11.5H734.6" fill="none" stroke-width="1"/><path d="M726.5 2.6L725.0 5.1H728.0Z M726.5 13.4L725.1 11.3H727.9Z M735.2 11.5L733.2 10.0V13.0Z M724.8 11.5L726.7 10.1V12.9Z" stroke="none"/></g>
<g fill="#1878d6"><rect x="728.9" y="3.7" width="1.1" height="5.9"/><path d="M730.2 6.2L732.8 3.7V8.8Z"/></g>
<g stroke="#fff" fill="#fff"><path d="M742.5 3.6V12.6M741.4 11.5H750.6" fill="none" stroke-width="1"/><path d="M742.5 2.6L741.0 5.1H744.0Z M742.5 13.4L741.1 11.3H743.9Z M751.2 11.5L749.2 10.0V13.0Z M740.8 11.5L742.7 10.1V12.9Z" stroke="none"/></g>
<path d="M745.1 3.7L750.4 6.9L745.1 9.4Z" fill="#fff" opacity="0.75"/><rect x="745" y="3.7" width="0.9" height="5.7" fill="#fff"/>
<g fill="#1878d6"><rect x="757.3" y="3" width="3.9" height="9.6"/><rect x="758.4" y="4.1" width="1.7" height="7.4" fill="#fff"/><rect x="761" y="6.9" width="3.6" height="1.9"/><path d="M763.9 5.3L766.9 7.85L763.9 10.4Z"/></g>
<text x="71.5" y="430.3" font-size="12" fill="#1a1a1a" font-weight="normal" textLength="73.8" lengthAdjust="spacingAndGlyphs">RSI(14,14,14)</text>
<text x="150.6" y="430.3" font-size="12" fill="#4d94f0" font-weight="normal" textLength="59.3" lengthAdjust="spacingAndGlyphs">RSI1:74.25</text>
<text x="218.5" y="430.3" font-size="12" fill="#45c485" font-weight="normal" textLength="58.9" lengthAdjust="spacingAndGlyphs">RSI2:74.25</text>
<text x="286.4" y="430.3" font-size="12" fill="#3fa9e6" font-weight="normal" textLength="59.2" lengthAdjust="spacingAndGlyphs">RSI3:74.25</text>
<g><path d="M12.95 422.80L14.95 422.80M11.84 426.69L13.61 428.46M7.95 427.80L7.95 429.80M4.06 426.69L2.29 428.46M2.95 422.80L0.95 422.80M4.06 418.91L2.29 417.14M7.95 417.80L7.95 415.80M11.84 418.91L13.61 417.14" stroke="#ff1a1a" stroke-width="1" fill="none"/><circle cx="7.95" cy="422.8" r="3.55" fill="#fff" stroke="#111" stroke-width="0.95"/><circle cx="7.95" cy="422.8" r="1.9" fill="#ff0a0a"/></g>
<rect x="0" y="573" width="69" height="1" fill="#ccd2dc"/><rect x="68" y="573" width="1" height="19" fill="#c6ccd7"/><rect x="69" y="574" width="1" height="18" fill="#eef1f5"/>
<text x="9.3" y="587.7" font-size="12" font-weight="bold" fill="#ff7f0e" textLength="20.5" lengthAdjust="spacingAndGlyphs">240</text>
<text x="29.9" y="588.8" font-size="12.6" font-weight="bold" fill="#ff7f0e" style="font-family:'Liberation Sans','Noto Sans CJK SC',sans-serif">分</text>
<path d="M47.2 587.4L51.5 579.4L55.8 587.4Z" fill="#ff7f0e"/>
<rect x="84" y="574" width="1" height="5" fill="#c9d0db"/>
<text x="86.2" y="586.1" font-size="12" font-weight="bold" fill="#1a2036" textLength="30" lengthAdjust="spacingAndGlyphs">09/13</text>
<rect x="252" y="574" width="1" height="5" fill="#c9d0db"/>
<text x="254.2" y="586.1" font-size="12" font-weight="bold" fill="#1a2036" textLength="30" lengthAdjust="spacingAndGlyphs">09/24</text>
<rect x="420" y="574" width="1" height="5" fill="#c9d0db"/>
<text x="422.2" y="586.1" font-size="12" font-weight="bold" fill="#1a2036" textLength="30" lengthAdjust="spacingAndGlyphs">10/03</text>
<rect x="572" y="574" width="1" height="5" fill="#c9d0db"/>
<text x="574.2" y="586.1" font-size="12" font-weight="bold" fill="#1a2036" textLength="30" lengthAdjust="spacingAndGlyphs">10/13</text>
<g font-size="30.5" letter-spacing="2.0" stroke-linejoin="round"><text x="711.7" y="568.3" fill="#a3876a" stroke="#a3876a" stroke-width="0.5" opacity="0.6" style="filter:blur(0.6px)">FX678</text><text x="710.6" y="567.3" fill="#d6e4f6" stroke="#d6e4f6" stroke-width="0.55" opacity="0.88">FX678</text></g>
</svg>
</body></html>
